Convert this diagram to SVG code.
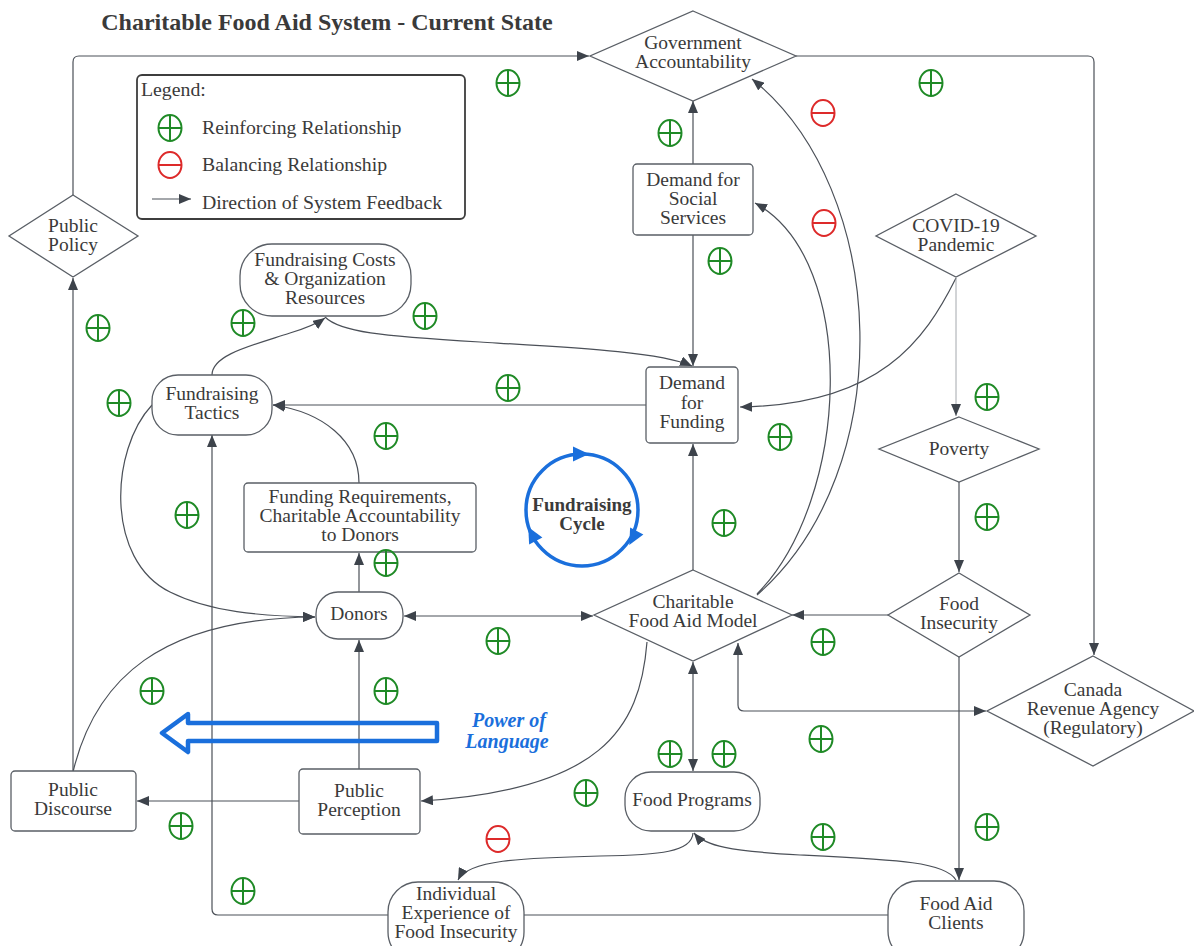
<svg xmlns="http://www.w3.org/2000/svg" xmlns:xlink="http://www.w3.org/1999/xlink" width="1194" height="946" viewBox="0 0 1194 946">
<style>
.node{fill:#fff;stroke:#5a5f66;stroke-width:1.3}
.t{font-family:"Liberation Serif","Times New Roman",serif;font-size:19.5px;fill:#3a3a3a;text-anchor:middle}
.lg{font-family:"Liberation Serif","Times New Roman",serif;font-size:19.8px;fill:#3a3a3a}
.bt{font-family:"Liberation Serif","Times New Roman",serif;font-weight:bold;fill:#3a3a3a;text-anchor:middle}
.pl{font-family:"Liberation Serif","Times New Roman",serif;font-size:20px;font-weight:bold;font-style:italic;fill:#1a6fdc;text-anchor:middle}
.ce{fill:none;stroke:#4b5058;stroke-width:1.2;marker-end:url(#arr)}
.cb{fill:none;stroke:#4b5058;stroke-width:1.2;marker-end:url(#arr);marker-start:url(#arr)}
.blue{fill:none;stroke:#1a6fdc;stroke-width:3.5}
</style>
<defs>
<marker id="arr" viewBox="0 0 12 10" refX="12" refY="5" markerWidth="12" markerHeight="10" markerUnits="userSpaceOnUse" orient="auto-start-reverse">
<path d="M0,0 L12,5 L0,10 z" fill="#3d434b"/>
</marker>
<g id="plus"><ellipse cx="0" cy="0" rx="11.5" ry="13" fill="none" stroke="#1f8a26" stroke-width="2"/><path d="M-11.5,0H11.5M0,-13V13" stroke="#1f8a26" stroke-width="2" fill="none"/></g>
<g id="minus"><ellipse cx="0" cy="0" rx="11.5" ry="13" fill="none" stroke="#dd2a2a" stroke-width="2"/><path d="M-11.5,0H11.5" stroke="#dd2a2a" stroke-width="2" fill="none"/></g>
<path id="bh" d="M-8,-7.5 L8,0 L-8,7.5 z" fill="#1a6fdc"/>
</defs>
<rect width="1194" height="946" fill="#fff"/>

<text class="bt" x="327" y="30" style="font-size:24px">Charitable Food Aid System - Current State</text>

<g id="legend">
<rect x="137" y="75" width="328" height="144" rx="5" fill="#fff" stroke="#3d3d3d" stroke-width="1.8"/>
<text class="lg" x="141" y="96">Legend:</text>
<use href="#plus" x="170" y="128"/>
<text class="lg" x="202" y="134">Reinforcing Relationship</text>
<use href="#minus" x="170" y="165"/>
<text class="lg" x="202" y="171">Balancing Relationship</text>
<path class="ce" d="M152,199 H191"/>
<text class="lg" x="202" y="209">Direction of System Feedback</text>
</g>

<g id="connectors">
<path class="ce" d="M73,195 V62 Q73,56 79,56 H589"/>
<path class="ce" d="M796,56 H1088 Q1094,56 1094,62 V655"/>
<path class="ce" d="M693,164 V101"/>
<path class="ce" d="M693,235 V366"/>
<path class="ce" d="M325,317 C340,332 380,336 480,342 C580,348 660,352 692,366"/>
<path class="ce" d="M212,375 C212,355 250,346 290,333 C310,327 318,323 325,318"/>
<path class="ce" d="M646,405 H273"/>
<path class="ce" d="M956,278 C925,340 880,405 740,407"/>
<path d="M956,278 V416" fill="none" stroke="#9a9ea4" stroke-width="0.9" marker-end="url(#arr)"/>
<path class="ce" d="M359,483 C359,440 322,412 273,405"/>
<path class="ce" d="M359,592 V553"/>
<path class="cb" d="M404,616 H593"/>
<path class="ce" d="M693,570 V444"/>
<path class="ce" d="M757,595 C900,470 890,190 752,79"/>
<path class="ce" d="M757,594 C850,500 860,260 755,203"/>
<path class="ce" d="M959,482 V572"/>
<path class="ce" d="M888,615 H792"/>
<path class="cb" d="M738,643 V705 Q738,711 744,711 H986"/>
<path class="ce" d="M959,657 V880"/>
<path class="cb" d="M693,662 V771"/>
<path class="ce" d="M647,642 C640,730 600,790 421,801"/>
<path class="ce" d="M359,769 V640"/>
<path class="ce" d="M299,801 H137"/>
<path class="ce" d="M73,771 V278"/>
<path class="ce" d="M73,772 C95,680 160,618 315,617"/>
<path class="ce" d="M152,405 C110,450 105,560 170,592 C210,612 260,616 315,617"/>
<path class="ce" d="M956,880 C945,862 900,860 800,855 C730,851 705,846 694,833"/>
<path class="ce" d="M693,833 C692,852 660,855 600,856 C520,858 468,860 458,880"/>
<path class="ce" d="M888,915 H218 Q212,915 212,909 V435"/>
</g>

<g id="cycle">
<circle cx="582" cy="510" r="56" class="blue"/>
<use href="#bh" transform="translate(581,454)"/>
<use href="#bh" transform="translate(633,538) rotate(118)"/>
<use href="#bh" transform="translate(532,534) rotate(242)"/>
<text class="bt" x="582" y="511" style="font-size:19px">Fundraising</text>
<text class="bt" x="582" y="530" style="font-size:19px">Cycle</text>
</g>

<g id="power-of-language">
<path d="M437,723 L188,723 L188,714 L162,733 L188,752 L188,741 L437,741 Z" fill="none" stroke="#1a6fdc" stroke-width="4.5" stroke-linejoin="round"/>
<text class="pl" x="509" y="727">Power of</text>
<text class="pl" x="507" y="748">Language</text>
</g>

<g id="government-accountability">
<polygon class="node" points="693,11 796,56 693,101 590,56"/>
<text class="t" x="693" y="49">Government</text>
<text class="t" x="693" y="68">Accountability</text>
</g>
<g id="public-policy">
<polygon class="node" points="73,195 138,236 73,277 9,236"/>
<text class="t" x="73" y="232">Public</text>
<text class="t" x="73" y="251">Policy</text>
</g>
<g id="demand-social-services">
<rect class="node" x="633" y="164" width="120" height="71" rx="4"/>
<text class="t" x="693" y="186">Demand for</text>
<text class="t" x="693" y="205">Social</text>
<text class="t" x="693" y="224">Services</text>
</g>
<g id="covid">
<polygon class="node" points="956,194 1036,236 956,277 876,236"/>
<text class="t" x="956" y="232">COVID-19</text>
<text class="t" x="956" y="251">Pandemic</text>
</g>
<g id="fundraising-costs">
<rect class="node" x="240" y="244" width="171" height="72" rx="32"/>
<text class="t" x="325" y="266">Fundraising Costs</text>
<text class="t" x="325" y="285">&amp; Organization</text>
<text class="t" x="325" y="304">Resources</text>
</g>
<g id="fundraising-tactics">
<rect class="node" x="152" y="375" width="120" height="60" rx="26"/>
<text class="t" x="212" y="400">Fundraising</text>
<text class="t" x="212" y="419">Tactics</text>
</g>
<g id="demand-funding">
<rect class="node" x="646" y="367" width="92" height="76" rx="4"/>
<text class="t" x="692" y="389">Demand</text>
<text class="t" x="692" y="409">for</text>
<text class="t" x="692" y="428">Funding</text>
</g>
<g id="poverty">
<polygon class="node" points="959,417 1039,449 959,482 879,449"/>
<text class="t" x="959" y="455">Poverty</text>
</g>
<g id="funding-requirements">
<rect class="node" x="244" y="483" width="232" height="69" rx="4"/>
<text class="t" x="360" y="503">Funding Requirements,</text>
<text class="t" x="360" y="522">Charitable Accountability</text>
<text class="t" x="360" y="541">to Donors</text>
</g>
<g id="donors">
<rect class="node" x="316" y="592" width="87" height="47" rx="22"/>
<text class="t" x="359" y="620">Donors</text>
</g>
<g id="charitable-food-aid-model">
<polygon class="node" points="693,570 792,615 693,661 594,615"/>
<text class="t" x="693" y="608">Charitable</text>
<text class="t" x="693" y="627">Food Aid Model</text>
</g>
<g id="food-insecurity">
<polygon class="node" points="959,573 1030,615 959,657 888,615"/>
<text class="t" x="959" y="610">Food</text>
<text class="t" x="959" y="629">Insecurity</text>
</g>
<g id="canada-revenue-agency">
<polygon class="node" points="1093,656 1194,711 1093,766 987,711"/>
<text class="t" x="1093" y="696">Canada</text>
<text class="t" x="1093" y="715">Revenue Agency</text>
<text class="t" x="1093" y="734">(Regulatory)</text>
</g>
<g id="public-discourse">
<rect class="node" x="11" y="771" width="125" height="60" rx="4"/>
<text class="t" x="73" y="796">Public</text>
<text class="t" x="73" y="815">Discourse</text>
</g>
<g id="public-perception">
<rect class="node" x="299" y="769" width="121" height="65" rx="4"/>
<text class="t" x="359" y="797">Public</text>
<text class="t" x="359" y="816">Perception</text>
</g>
<g id="food-programs">
<rect class="node" x="625" y="772" width="135" height="59" rx="26"/>
<text class="t" x="692" y="806">Food Programs</text>
</g>
<g id="individual-experience">
<rect class="node" x="388" y="882" width="136" height="80" rx="30"/>
<text class="t" x="456" y="900">Individual</text>
<text class="t" x="456" y="919">Experience of</text>
<text class="t" x="456" y="938">Food Insecurity</text>
</g>
<g id="food-aid-clients">
<rect class="node" x="888" y="881" width="136" height="80" rx="30"/>
<text class="t" x="956" y="910">Food Aid</text>
<text class="t" x="956" y="929">Clients</text>
</g>

<g id="polarity">
<use href="#plus" x="508" y="83"/>
<use href="#plus" x="931" y="83"/>
<use href="#minus" x="823" y="113"/>
<use href="#plus" x="670" y="133"/>
<use href="#minus" x="824" y="223"/>
<use href="#plus" x="720" y="261"/>
<use href="#plus" x="243" y="323"/>
<use href="#plus" x="425" y="316"/>
<use href="#plus" x="98" y="328"/>
<use href="#plus" x="119" y="403"/>
<use href="#plus" x="508" y="388"/>
<use href="#plus" x="987" y="397"/>
<use href="#plus" x="386" y="436"/>
<use href="#plus" x="780" y="437"/>
<use href="#plus" x="187" y="515"/>
<use href="#plus" x="724" y="523"/>
<use href="#plus" x="987" y="517"/>
<use href="#plus" x="386" y="563"/>
<use href="#plus" x="498" y="641"/>
<use href="#plus" x="823" y="642"/>
<use href="#plus" x="152" y="691"/>
<use href="#plus" x="386" y="691"/>
<use href="#plus" x="821" y="739"/>
<use href="#plus" x="670" y="754"/>
<use href="#plus" x="724" y="754"/>
<use href="#plus" x="586" y="793"/>
<use href="#plus" x="181" y="826"/>
<use href="#plus" x="823" y="837"/>
<use href="#plus" x="987" y="827"/>
<use href="#minus" x="498" y="839"/>
<use href="#plus" x="243" y="891"/>
</g>
</svg>
